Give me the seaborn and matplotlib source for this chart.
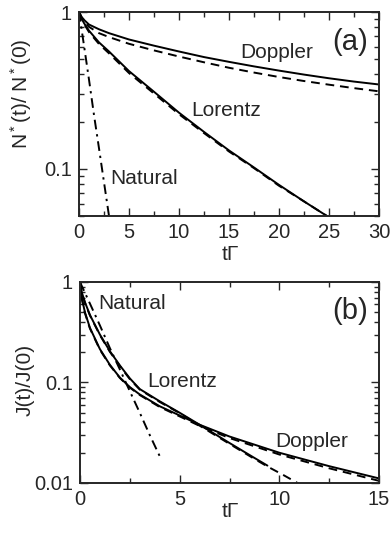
import numpy as np
import pandas as pd
import matplotlib
matplotlib.use("Agg")
import matplotlib.pyplot as plt
import seaborn as sns
from matplotlib.ticker import FixedLocator, NullFormatter, LogLocator

# ---------------- data: panel (a) ----------------
a_t_nat = [0, 0.5, 1, 1.5, 2, 2.5, 3]
a_nat = [1, 0.61, 0.37, 0.22, 0.135, 0.082, 0.05]

a_t = [0, 0.25, 0.5, 1, 2, 3, 5, 7.5, 10, 12.5, 15, 17.5, 20, 22.5, 25, 27.5, 30]
a_dop_solid = [1, 0.933, 0.891, 0.832, 0.776, 0.733, 0.668, 0.61, 0.56, 0.516, 0.481, 0.45, 0.423, 0.399, 0.378, 0.36, 0.345]
a_dop_dash = [1, 0.923, 0.871, 0.804, 0.733, 0.692, 0.627, 0.569, 0.52, 0.478, 0.441, 0.411, 0.385, 0.363, 0.344, 0.327, 0.312]

a_t_lor = [0, 0.25, 0.5, 1, 2, 3, 5, 7.5, 10, 12.5, 15, 17.5, 20, 22.5, 24.8]
a_lor_solid = [1, 0.91, 0.85, 0.76, 0.64, 0.56, 0.42, 0.31, 0.228, 0.172, 0.131, 0.102, 0.079, 0.062, 0.05]
a_lor_dash = [1, 0.9, 0.84, 0.745, 0.625, 0.545, 0.408, 0.302, 0.223, 0.169, 0.129, 0.101, 0.078, 0.062, 0.05]

# ---------------- data: panel (b) ----------------
b_t_nat = [0, 0.5, 1, 1.5, 2, 2.5, 3, 3.5, 4.05]
b_nat = [1, 0.61, 0.37, 0.22, 0.135, 0.082, 0.05, 0.03, 0.0176]

b_t_dop = [0, 0.1, 0.25, 0.5, 1, 1.5, 2, 2.5, 3, 4, 5, 6, 7.5, 10, 12.5, 15]
b_dop_solid = [1, 0.68, 0.5, 0.35, 0.215, 0.15, 0.112, 0.09, 0.076, 0.058, 0.047, 0.038, 0.029, 0.020, 0.0147, 0.0111]
b_dop_dash = [1, 0.67, 0.49, 0.345, 0.212, 0.148, 0.111, 0.089, 0.075, 0.057, 0.046, 0.037, 0.028, 0.0192, 0.0140, 0.0105]

b_t_lor = [0, 0.1, 0.25, 0.5, 1, 1.5, 2, 2.5, 3, 4, 5, 6, 7.5, 8.7, 9.4]
b_lor_solid = [1, 0.78, 0.63, 0.47, 0.3, 0.205, 0.148, 0.11, 0.086, 0.065, 0.05, 0.038, 0.025, 0.018, 0.0149]
b_t_lor_d = [0, 0.1, 0.25, 0.5, 1, 1.5, 2, 2.5, 3, 4, 5, 6, 7.5, 8.7, 9.4, 10.2, 10.95]
b_lor_dash = [1, 0.77, 0.62, 0.465, 0.296, 0.202, 0.146, 0.108, 0.085, 0.064, 0.0495, 0.0372, 0.0245, 0.0176, 0.0146, 0.0120, 0.0099]

sns.set_style("ticks")
plt.rcParams['font.family'] = ['Liberation Sans', 'DejaVu Sans']
plt.rcParams['mathtext.fontset'] = 'custom'
plt.rcParams['mathtext.rm'] = 'Liberation Sans'
plt.rcParams['mathtext.it'] = 'Liberation Sans'

fig = plt.figure(figsize=(3.9, 5.36), dpi=100)
ax1 = fig.add_axes([0.2026, 0.597, 0.769, 0.3806])
ax2 = fig.add_axes([0.205, 0.0989, 0.767, 0.375])

lw = 1.4
dash = (0, (4.5, 3))
dashdot = (0, (5, 2.5, 1.2, 2.5))

def draw(ax, t, v, ls):
    df = pd.DataFrame({"t": t, "v": v})
    sns.lineplot(data=df, x="t", y="v", ax=ax, color="black", lw=lw,
                 linestyle=ls, sort=False, estimator=None)

draw(ax1, a_t_nat, a_nat, dashdot)
draw(ax1, a_t, a_dop_dash, dash)
draw(ax1, a_t, a_dop_solid, "-")
draw(ax1, a_t_lor, a_lor_dash, dash)
draw(ax1, a_t_lor, a_lor_solid, "-")

draw(ax2, b_t_nat, b_nat, dashdot)
draw(ax2, b_t_dop, b_dop_dash, dash)
draw(ax2, b_t_dop, b_dop_solid, "-")
draw(ax2, b_t_lor_d, b_lor_dash, dash)
draw(ax2, b_t_lor, b_lor_solid, "-")

fs = 14.5
for ax in (ax1, ax2):
    ax.set_yscale("log")
    for s in ax.spines.values():
        s.set_linewidth(1.4)
        s.set_visible(True)
    ax.tick_params(which="both", direction="in", top=True, right=True,
                   labelsize=fs, width=1.0, pad=5)
    ax.tick_params(which="major", length=6)
    ax.tick_params(which="minor", length=3.5)
    ax.yaxis.set_minor_locator(LogLocator(base=10, subs=np.arange(2, 10)))
    ax.yaxis.set_minor_formatter(NullFormatter())

ax1.set_xlim(0, 30)
ax1.set_ylim(0.05, 1)
ax1.xaxis.set_major_locator(FixedLocator([0, 5, 10, 15, 20, 25, 30]))
ax1.xaxis.set_minor_locator(FixedLocator(np.arange(0, 30.1, 2.5)))
ax1.yaxis.set_major_locator(FixedLocator([0.1, 1]))
ax1.set_yticklabels(["0.1", "1"])

ax2.set_xlim(0, 15)
ax2.set_ylim(0.01, 1)
ax2.xaxis.set_major_locator(FixedLocator([0, 5, 10, 15]))
ax2.xaxis.set_minor_locator(FixedLocator(np.arange(0, 15.1, 2.5)))
ax2.yaxis.set_major_locator(FixedLocator([0.01, 0.1, 1]))
ax2.set_yticklabels(["0.01", "0.1", "1"])

ax1.set_xlabel("tΓ", fontsize=15)
ax1.set_ylabel(r"N$^*$(t)/ N$^*$(0)", fontsize=15)
ax1.xaxis.set_label_coords(0.503, -0.14)
ax1.yaxis.set_label_coords(-0.15, 0.60)

ax2.set_xlabel("tΓ", fontsize=15)
ax2.set_ylabel("J(t)/J(0)", fontsize=15)
ax2.xaxis.set_label_coords(0.503, -0.093)
ax2.yaxis.set_label_coords(-0.153, 0.512)

kw = dict(ha="center", va="center", fontsize=15)
ax1.text(0.66, 0.80, "Doppler", transform=ax1.transAxes, **kw)
ax1.text(0.49, 0.515, "Lorentz", transform=ax1.transAxes, **kw)
ax1.text(0.217, 0.186, "Natural", transform=ax1.transAxes, **kw)
ax1.text(0.903, 0.853, "(a)", transform=ax1.transAxes, ha="center", va="center", fontsize=21)

ax2.text(0.174, 0.893, "Natural", transform=ax2.transAxes, **kw)
ax2.text(0.341, 0.505, "Lorentz", transform=ax2.transAxes, **kw)
ax2.text(0.776, 0.206, "Doppler", transform=ax2.transAxes, **kw)
ax2.text(0.903, 0.856, "(b)", transform=ax2.transAxes, ha="center", va="center", fontsize=21)

fig.savefig("out.png", dpi=100)
